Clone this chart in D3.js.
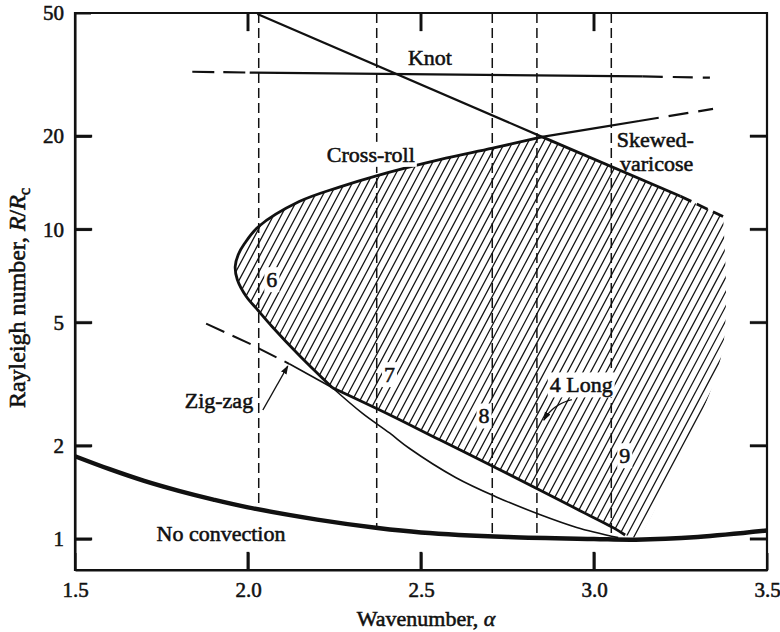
<!DOCTYPE html>
<html>
<head>
<meta charset="utf-8">
<script src="https://cdn.jsdelivr.net/npm/d3@7"></script>
<style>
  body { margin: 0; background: #fff; }
  svg text { font-family: "Liberation Serif", "Times New Roman", serif; fill: #111; stroke: #111; stroke-width: 0.55px; }
  .frame-axis path.domain, .frame-axis .tick line { stroke: #111; stroke-width: 2px; }
</style>
</head>
<body>
<svg id="chart" width="780" height="632"></svg>
<script>
// Axis ticks
const xTicks = [1.5, 2.0, 2.5, 3.0, 3.5];
const xTickLabels = ["1.5", "2.0", "2.5", "3.0", "3.5"];
const yTicks = [1, 2, 5, 10, 20, 50];
const yTickLabels = ["1", "2", "5", "10", "20", "50"];

// Onset of convection (neutral curve), [wavenumber, R/Rc]
const neutralCurve = [[1.5,1.85],[1.6,1.68],[1.7,1.54],[1.8,1.43],[1.9,1.34],[2.0,1.265],[2.2,1.155],
  [2.375,1.085],[2.5,1.05],[2.75,1.015],[3.0,1.0],[3.12,0.995],[3.3,1.015],[3.5,1.065]];

// Cross-roll boundary: part that closes the stable region (from zig-zag crossing, round the nose, to the top corner)
const crossRollBalloon = [[2.244,3.08],[2.15,3.9],[2.07,4.85],[2.027,5.51],[1.995,6.07],[1.969,6.89],[1.963,7.59],
  [1.972,8.3],[1.99,9.0],[2.03,10.2],[2.148,12.3],[2.264,13.7],[2.371,14.9],[2.554,16.8],[2.707,18.3],[2.85,19.9]];
// Cross-roll beyond the stable region
const crossRollUpperSolid = [[2.85,19.9],[3.0,21.2],[3.13,22.4]];
const crossRollUpperDashed = [[3.13,22.4],[3.344,24.5]];
const crossRollLower = [[2.244,3.08],[2.33,2.55],[2.409,2.2],[2.467,1.96],[2.6,1.58],[2.716,1.37],
  [2.843,1.2],[2.95,1.09],[3.07,1.01]];

// Zig-zag boundary
const zigZagDashed = [[1.879,4.96],[2.0,4.3],[2.119,3.68]];
const zigZagThin = [[2.119,3.68],[2.244,3.08]];
const zigZagBalloon = [[2.244,3.08],[2.409,2.52],[2.554,2.09],[2.716,1.70],[2.843,1.44],[2.95,1.25],[3.054,1.09],[3.09,1.03]];

// Knot boundaries
const knotOblique = [[2.027,49.6],[2.85,19.9]];
const knotFlatDashedLeft = [[1.839,32.3],[2.005,32.1]];
const knotFlatSolid = [[2.005,32.1],[3.141,31.2]];
const knotFlatDashedRight = [[3.141,31.2],[3.335,30.9]];

// Skewed-varicose boundary
const skewedSolid = [[2.85,19.9],[3.25,12.8]];
const skewedDashed = [[3.25,12.8],[3.373,11.0]];

// Right-hand limit of the shaded (stable) region
const hatchEdge = [[3.373,11.0],[3.373,4.18],[3.286,2.2],[3.228,1.65],[3.17,1.21],[3.13,1.0]];

// Wavenumbers of the experimental runs (vertical dashed lines)
const runWavenumbers = [2.031, 2.372, 2.706, 2.835, 3.05];

const svg = d3.select("#chart");
const x = d3.scaleLinear().domain([1.5, 3.5]).range([75, 767]);
const y = d3.scaleLog().domain([0.794, 50]).range([570, 13]);
const plotLeft = x(1.5), plotRight = x(3.5), plotBottom = y(0.794), plotTop = y(50);

const smooth = d3.line().x(d => x(d[0])).y(d => y(d[1])).curve(d3.curveCatmullRom.alpha(0.5));
const straight = d3.line().x(d => x(d[0])).y(d => y(d[1]));

function neutralAt(a) {
  for (let i = 0; i < neutralCurve.length - 1; i++) {
    const p = neutralCurve[i], q = neutralCurve[i + 1];
    if (a >= p[0] && a <= q[0]) {
      const t = (a - p[0]) / (q[0] - p[0]);
      return Math.exp(Math.log(p[1]) + t * (Math.log(q[1]) - Math.log(p[1])));
    }
  }
  return 1;
}

// ---- Shaded stable region ----
const joinPath = (s) => s.replace(/^M/, "L");
const balloonPath =
  smooth(crossRollBalloon) +
  joinPath(straight(skewedSolid)) + joinPath(straight(skewedDashed)) +
  joinPath(smooth(hatchEdge)) +
  joinPath(smooth(zigZagBalloon.slice().reverse())) + "Z";

const defs = svg.append("defs");
defs.append("clipPath").attr("id", "balloonClip").append("path").attr("d", balloonPath);
defs.append("marker").attr("id", "arrowHead").attr("viewBox", "0 0 10 10")
  .attr("refX", 9).attr("refY", 5).attr("markerWidth", 9).attr("markerHeight", 9)
  .attr("markerUnits", "userSpaceOnUse").attr("orient", "auto")
  .append("path").attr("d", "M0,1.5 L10,5 L0,8.5 Z").attr("fill", "#111");

const hatch = svg.append("g").attr("clip-path", "url(#balloonClip)");
const hatchSlope = Math.tan(62 * Math.PI / 180);
for (let x0 = -300; x0 < 900; x0 += 7.7) {
  hatch.append("line")
    .attr("x1", x0).attr("y1", plotBottom)
    .attr("x2", x0 + (plotBottom - plotTop) / hatchSlope).attr("y2", plotTop)
    .attr("stroke", "#111").attr("stroke-width", 1.25);
}

// ---- Vertical dashed lines for the runs ----
svg.append("g").selectAll("line").data(runWavenumbers).join("line")
  .attr("x1", d => x(d)).attr("x2", d => x(d))
  .attr("y1", plotTop).attr("y2", d => y(neutralAt(d)))
  .attr("stroke", "#111").attr("stroke-width", 1.5).attr("stroke-dasharray", "10,5");

// ---- Stability boundaries ----
const curves = svg.append("g").attr("fill", "none").attr("stroke", "#111").attr("stroke-linecap", "butt");
function draw(data, width, dash, gen) {
  const p = curves.append("path").attr("d", (gen || smooth)(data)).attr("stroke-width", width);
  if (dash) p.attr("stroke-dasharray", dash);
  return p;
}
draw(crossRollBalloon, 2.8);
draw(crossRollUpperSolid, 2.2, null, straight);
draw(crossRollUpperDashed, 2.2, "20,10", straight);
draw(crossRollLower, 1.6);
draw(zigZagDashed, 2, "20,9", straight);
draw(zigZagThin, 1.6, null, straight);
draw(zigZagBalloon, 2.8);
draw(knotOblique, 2.2, null, straight);
draw(knotFlatDashedLeft, 2.2, "22,9", straight);
draw(knotFlatSolid, 2.2, null, straight);
draw(knotFlatDashedRight, 2.2, "20,10", straight);
draw(skewedSolid, 2.8, null, straight);
draw(skewedDashed, 2.8, "12,6", straight);
draw(neutralCurve, 4.5);

// ---- Frame drawn as a filled border ----
const fw = 2.2;
const borderPath = `M${plotLeft - fw / 2},${plotTop - fw / 2}H${plotRight + fw / 2}V${plotBottom + fw / 2}H${plotLeft - fw / 2}Z` +
  `M${plotLeft + fw / 2},${plotTop + fw / 2}V${plotBottom - fw / 2}H${plotRight - fw / 2}V${plotTop + fw / 2}Z`;
svg.append("path").attr("d", borderPath).attr("fill", "#111").attr("fill-rule", "evenodd").attr("stroke", "none");

// Inward tick marks as small filled polygons
const tickShapes = [];
xTicks.slice(1, -1).forEach(v => {
  const cx = x(v);
  tickShapes.push([[cx - 1.3, plotBottom], [cx + 1.3, plotBottom], [cx + 1.3, plotBottom - 18], [cx - 1.3, plotBottom - 18]]);
  tickShapes.push([[cx - 1.3, plotTop], [cx + 1.3, plotTop], [cx + 1.3, plotTop + 18], [cx - 1.3, plotTop + 18]]);
});
yTicks.slice(0, -1).forEach(v => {
  const cy = y(v);
  tickShapes.push([[plotLeft, cy - 1.3], [plotLeft + 17, cy - 1.3], [plotLeft + 17, cy + 1.3], [plotLeft, cy + 1.3]]);
  tickShapes.push([[plotRight, cy - 1.3], [plotRight - 17, cy - 1.3], [plotRight - 17, cy + 1.3], [plotRight, cy + 1.3]]);
});
svg.append("g").selectAll("polygon").data(tickShapes).join("polygon")
  .attr("points", d => d.map(p => p.join(",")).join(" "))
  .attr("fill", "#111").attr("stroke", "#111").attr("stroke-width", 0.3);

// ---- Tick labels through the library's axes ----
const tickFont = 21;
function styleAxis(g) {
  g.attr("class", "frame-axis").attr("font-family", null).attr("font-size", null);
  g.selectAll("text").attr("font-size", tickFont).attr("fill", "#111");
}
svg.append("g").attr("transform", `translate(0,${plotBottom})`)
  .call(d3.axisBottom(x).tickValues(xTicks).tickSizeInner(-17).tickSizeOuter(0).tickPadding(12)
    .tickFormat((d, i) => xTickLabels[i]))
  .call(styleAxis);
svg.append("g").attr("transform", `translate(${plotLeft},0)`)
  .call(d3.axisLeft(y).tickValues(yTicks).tickSizeInner(-16).tickSizeOuter(0).tickPadding(11)
    .tickFormat((d, i) => yTickLabels[i]))
  .call(styleAxis);

// ---- Axis titles ----
const xt = svg.append("text").attr("x", 426).attr("y", 626).attr("text-anchor", "middle").attr("font-size", 22);
xt.append("tspan").text("Wavenumber, ");
xt.append("tspan").attr("font-style", "italic").text("α");

const yt = svg.append("text").attr("transform", "translate(25,298) rotate(-90)")
  .attr("text-anchor", "middle").attr("font-size", 24);
yt.append("tspan").text("Rayleigh number, ");
yt.append("tspan").attr("font-style", "italic").text("R");
yt.append("tspan").text("/");
yt.append("tspan").attr("font-style", "italic").text("R");
yt.append("tspan").attr("font-size", 16).attr("dy", 5).text("c");

// ---- Annotations ----
const labelFont = 22;
const notes = svg.append("g");
function label(txt, a, r, anchor, boxed) {
  const t = notes.append("text").attr("x", x(a)).attr("y", y(r)).attr("dy", "0.35em")
    .attr("text-anchor", anchor || "middle").attr("font-size", labelFont).text(txt);
  if (boxed) {
    const b = t.node().getBBox();
    notes.insert("rect", () => t.node())
      .attr("x", b.x - 2).attr("y", b.y).attr("width", b.width + 4).attr("height", b.height)
      .attr("fill", "#fff").attr("stroke", "none");
  }
  return t;
}
label("Knot", 2.526, 36.0);
label("Cross-roll", 2.355, 17.5, "middle", true);
label("Skewed-", 3.066, 19.5, "start");
label("varicose", 3.075, 16.4, "start");
label("6", 2.069, 6.89, "middle", true);
label("7", 2.409, 3.40, "middle", true);
label("8", 2.682, 2.50, "middle", true);
label("9", 3.089, 1.86, "middle", true);
label("4 Long", 2.963, 3.15, "middle", true);
label("Zig-zag", 1.916, 2.8);
label("No convection", 1.922, 1.045);

// Pointers
svg.append("path").attr("d", straight([[2.043, 2.61], [2.115, 3.62]]))
  .attr("stroke", "#111").attr("stroke-width", 1.4).attr("fill", "none").attr("marker-end", "url(#arrowHead)");
svg.append("path").attr("d", `M${x(2.936)},${y(2.82)} Q${x(2.88)},${y(2.72)} ${x(2.855)},${y(2.42)}`)
  .attr("stroke", "#111").attr("stroke-width", 1.4).attr("fill", "none").attr("marker-end", "url(#arrowHead)");
</script>
</body>
</html>
